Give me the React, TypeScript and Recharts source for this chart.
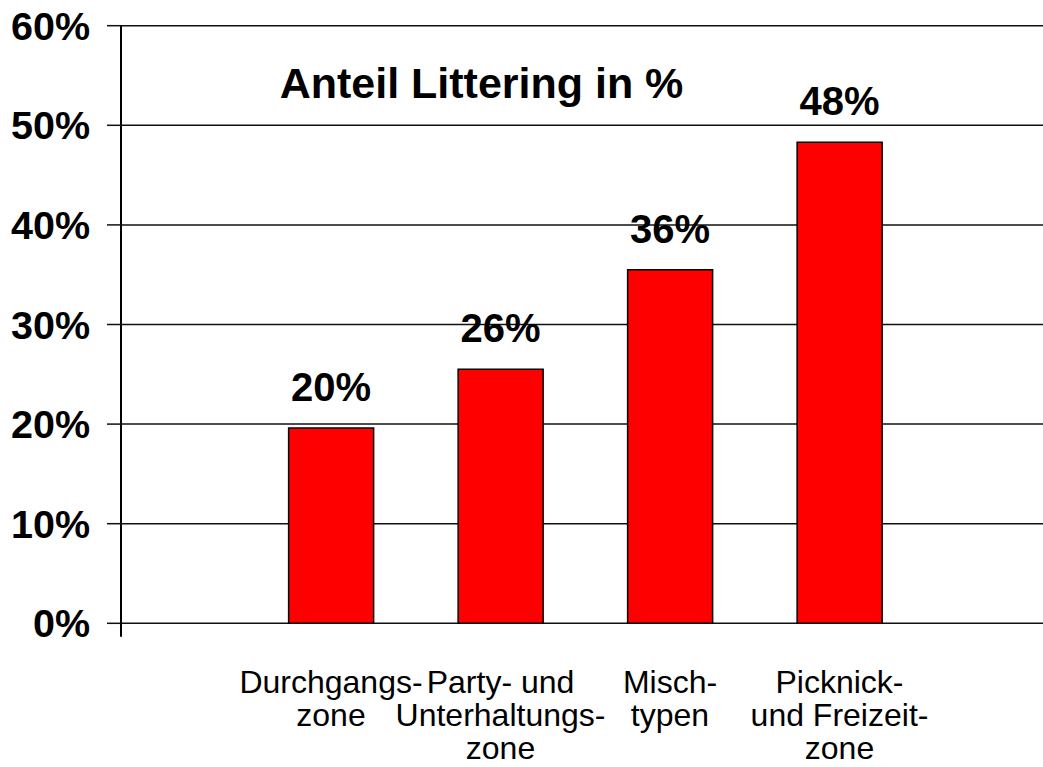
import { BarChart, Bar, XAxis, YAxis, CartesianGrid, LabelList } from "recharts";

const categories = [
  "Durchgangs-\nzone",
  "Party- und\nUnterhaltungs-\nzone",
  "Misch-\ntypen",
  "Picknick-\nund Freizeit-\nzone",
];
const shares = [19.6, 25.5, 35.5, 48.3];
const valueLabels = ["20%", "26%", "36%", "48%"];
const yTicks = [0, 10, 20, 30, 40, 50, 60];

const data = categories.map((name, i) => ({ name, share: shares[i], label: valueLabels[i] }));

const FONT = '"Liberation Sans", Arial, Helvetica, sans-serif';
const TICK_SIZE = 14;
const TICK_MARGIN = 17;

const YTick = (props: any) => {
  const { x, y, payload } = props;
  const axisX = x + TICK_SIZE + TICK_MARGIN;
  return (
    <g>
      <text x={x} y={y} dy={14} textAnchor="end" fontSize={39.5} fontWeight="bold" fill="#000" fontFamily={FONT}>
        {payload.value}%
      </text>
      {payload.value === 0 && (
        // the axis line runs a little below the 0% line
        <line x1={axisX} x2={axisX} y1={y} y2={y + 13.5} stroke="#000" strokeWidth={2} />
      )}
    </g>
  );
};

const XTick = (props: any) => {
  const { x, y, payload } = props;
  const lines = String(payload.value).split("\n");
  return (
    <text x={x} y={y} textAnchor="middle" fontSize={32} fill="#000" fontFamily={FONT}>
      {lines.map((line, i) => (
        <tspan key={i} x={x} dy={i === 0 ? 69.5 : 33}>
          {line}
        </tspan>
      ))}
    </text>
  );
};

export default function App() {
  return (
    <div style={{ position: "absolute", left: 0, top: 0, width: 1043, height: 767, background: "#fff" }}>
      <BarChart
        width={1043}
        height={767}
        data={data}
        margin={{ top: 25.7, right: 0, left: 0, bottom: 0 }}
        barCategoryGap="25%"
      >
        <CartesianGrid vertical={false} stroke="#111" strokeWidth={1.5} />
        <XAxis
          dataKey="name"
          interval={0}
          axisLine={false}
          tickLine={false}
          tickSize={0}
          tickMargin={0}
          height={143.7}
          padding={{ left: 125.25, right: 118.75 }}
          tick={<XTick />}
        />
        <YAxis
          width={121}
          domain={[0, 60]}
          ticks={yTicks}
          interval={0}
          tickSize={TICK_SIZE}
          tickMargin={TICK_MARGIN}
          axisLine={{ stroke: "#000", strokeWidth: 2 }}
          tickLine={{ stroke: "#111", strokeWidth: 1.5 }}
          tick={<YTick />}
        />
        <Bar dataKey="share" fill="#ff0000" stroke="#000" strokeWidth={1.5} isAnimationActive={false}>
          <LabelList
            dataKey="label"
            position="top"
            offset={27}
            fill="#000"
            fontSize={40}
            fontWeight="bold"
            fontFamily={FONT}
          />
        </Bar>
      </BarChart>
      <div
        style={{
          position: "absolute",
          left: 0,
          top: 62,
          width: 963,
          textAlign: "center",
          fontFamily: FONT,
          fontWeight: "bold",
          fontSize: 43,
          lineHeight: "43px",
          color: "#000",
        }}
      >
        Anteil Littering in %
      </div>
    </div>
  );
}
